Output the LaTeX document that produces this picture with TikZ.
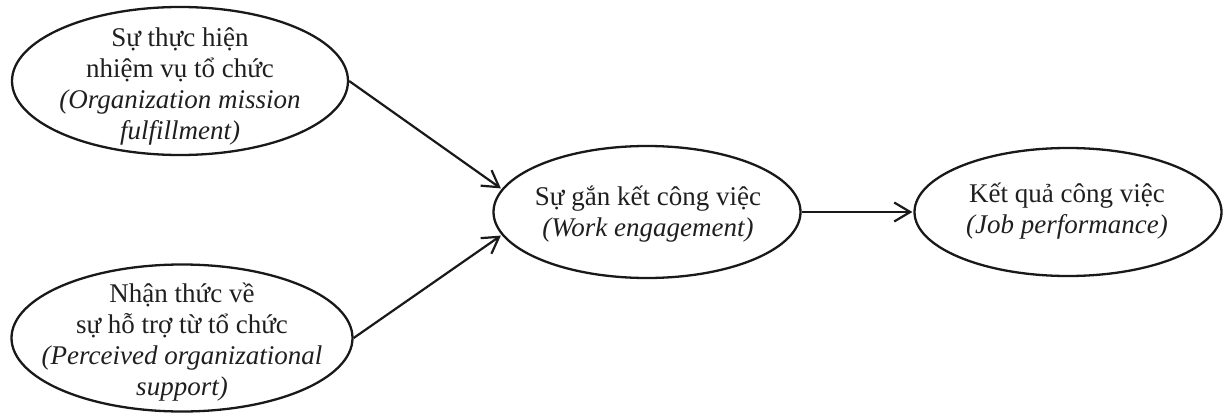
\documentclass[tikz,border=0pt]{standalone}
\usepackage{fontspec}
\setmainfont{Liberation Serif}
\usetikzlibrary{shapes.geometric,arrows.meta}

\tikzset{
  oval/.style={draw=black!90, line width=2.3pt, ellipse, inner sep=0pt},
  label/.style={align=center, inner sep=0pt, text=black!88,
    font=\fontsize{27pt}{31pt}\selectfont},
  link/.style={draw=black!90, line width=2.2pt,
    -{Straight Barb[length=16pt,width=19pt,line width=2.2pt]}, shorten >=1pt}
}

\begin{document}
\begin{tikzpicture}[x=1pt,y=1pt]
  \useasboundingbox (0,0) rectangle (1230,-417);

  % construct ellipses
  \node[oval, minimum width=336pt, minimum height=148pt] (mission) at (180,-81) {};
  \node[oval, minimum width=341pt, minimum height=147pt] (support) at (182,-338) {};
  \node[oval, minimum width=307pt, minimum height=132pt] (engage) at (647,-212) {};
  \node[oval, minimum width=307pt, minimum height=128pt] (perform) at (1068,-212) {};

  % labels
  \node[label] (missiontext) at (180,-86) {Sự thực hiện\\nhiệm vụ tổ chức\\\textit{(Organization mission}\\\textit{fulfillment)}};
  \node[label] (supporttext) at (182,-342) {Nhận thức về\\sự hỗ trợ từ tổ chức\\\textit{(Perceived organizational}\\\textit{support)}};
  \node[label] (engagetext) at (648,-214) {Sự gắn kết công việc\\\textit{(Work engagement)}};
  \node[label] (performtext) at (1067,-211) {Kết quả công việc\\\textit{(Job performance)}};

  % paths
  \draw[link] (mission.east) -- (engage.171);
  \draw[link] (support.east) -- (engage.189);
  \draw[link] (engage.east) -- (perform.west);
\end{tikzpicture}
\end{document}
